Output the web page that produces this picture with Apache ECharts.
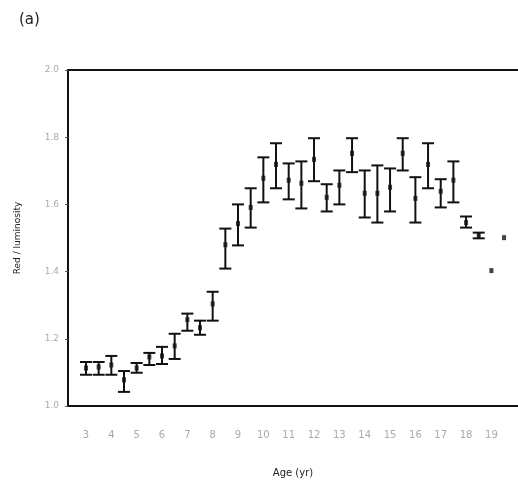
<!DOCTYPE html>
<html>
<head>
<meta charset="utf-8">
<script src="https://cdn.jsdelivr.net/npm/echarts@6/dist/echarts.min.js"></script>
<style>
  html, body { margin: 0; padding: 0; background: #fff; }
  #chart { width: 518px; height: 488px; }
</style>
</head>
<body>
<div id="chart"></div>
<script>
// age groups (yr), half-year steps
const ages = [3, 3.5, 4, 4.5, 5, 5.5, 6, 6.5, 7, 7.5, 8, 8.5, 9, 9.5, 10, 10.5, 11, 11.5,
  12, 12.5, 13, 13.5, 14, 14.5, 15, 15.5, 16, 16.5, 17, 17.5, 18, 18.5, 19, 19.5];
// mean red / luminosity
const means = [1.113, 1.116, 1.122, 1.078, 1.113, 1.146, 1.149, 1.179, 1.257, 1.233, 1.304,
  1.48, 1.543, 1.591, 1.678, 1.719, 1.672, 1.663, 1.734, 1.621, 1.657, 1.752, 1.633, 1.633,
  1.651, 1.752, 1.618, 1.719, 1.639, 1.672, 1.546, 1.507, 1.403, 1.501];
// error bar ends (null = no bar)
const upper = [1.131, 1.131, 1.149, 1.104, 1.128, 1.158, 1.176, 1.215, 1.275, 1.254, 1.34,
  1.528, 1.6, 1.648, 1.74, 1.782, 1.722, 1.728, 1.797, 1.66, 1.701, 1.797, 1.701, 1.716,
  1.707, 1.797, 1.681, 1.782, 1.675, 1.728, 1.564, 1.516, null, null];
const lower = [1.093, 1.093, 1.093, 1.042, 1.099, 1.122, 1.125, 1.14, 1.224, 1.212, 1.254,
  1.409, 1.478, 1.531, 1.606, 1.648, 1.615, 1.588, 1.669, 1.579, 1.6, 1.696, 1.561, 1.546,
  1.579, 1.701, 1.546, 1.648, 1.591, 1.606, 1.531, 1.499, null, null];
const ageTicks = [3, 4, 5, 6, 7, 8, 9, 10, 11, 12, 13, 14, 15, 16, 17, 18, 19];

const barData = [];
ages.forEach((a, i) => {
  if (upper[i] != null) barData.push([a, lower[i], upper[i]]);
});
const meanData = ages.map((a, i) => [a, means[i]]);

const chart = echarts.init(document.getElementById('chart'));
chart.setOption({
  animation: false,
  title: {
    text: '(a)',
    left: 14,
    top: 8,
    textStyle: { fontSize: 15, fontWeight: 'normal', color: '#222', fontFamily: 'DejaVu Sans' }
  },
  grid: { left: 68, right: 0, top: 70, bottom: 82 },
  xAxis: [
    {
      type: 'value',
      min: 2.29,
      max: 20.05,
      name: 'Age (yr)',
      nameLocation: 'middle',
      nameGap: 62,
      nameTextStyle: { fontSize: 10, color: '#222', fontFamily: 'DejaVu Sans' },
      splitLine: { show: false },
      axisLine: { lineStyle: { color: '#111', width: 2 } },
      axisTick: { show: false },
      axisLabel: {
        customValues: ageTicks,
        margin: 24,
        fontSize: 10,
        color: '#aaa',
        fontFamily: 'DejaVu Sans'
      }
    },
    {
      // top frame line only
      type: 'value',
      position: 'top',
      min: 2.29,
      max: 20.05,
      splitLine: { show: false },
      axisLine: { show: true, lineStyle: { color: '#111', width: 2 } },
      axisTick: { show: false },
      axisLabel: { show: false }
    }
  ],
  yAxis: {
    type: 'value',
    min: 1.0,
    max: 2.0,
    interval: 0.2,
    name: 'Red / luminosity',
    nameLocation: 'middle',
    nameGap: 46,
    nameTextStyle: { fontSize: 9, color: '#222', fontFamily: 'DejaVu Sans' },
    splitLine: { show: false },
    axisLine: { show: true, lineStyle: { color: '#111', width: 2 } },
    axisTick: { show: true, length: 3, lineStyle: { color: '#555' } },
    axisLabel: {
      margin: 9,
      fontSize: 9,
      color: '#aaa',
      fontFamily: 'DejaVu Sans',
      formatter: v => v.toFixed(1)
    }
  },
  series: [
    {
      // error bars
      type: 'custom',
      data: barData,
      renderItem: function (params, api) {
        const x = api.value(0);
        const lo = api.coord([x, api.value(1)]);
        const hi = api.coord([x, api.value(2)]);
        const w = 6;
        const style = { stroke: '#111', lineWidth: 2 };
        return {
          type: 'group',
          children: [
            { type: 'line', shape: { x1: lo[0], y1: lo[1], x2: hi[0], y2: hi[1] }, style },
            { type: 'line', shape: { x1: lo[0] - w, y1: lo[1], x2: lo[0] + w, y2: lo[1] }, style },
            { type: 'line', shape: { x1: hi[0] - w, y1: hi[1], x2: hi[0] + w, y2: hi[1] }, style }
          ]
        };
      },
      z: 2
    },
    {
      // means
      type: 'scatter',
      data: meanData,
      symbol: 'rect',
      symbolSize: [4, 5],
      itemStyle: { color: '#111' },
      z: 3
    }
  ]
});
</script>
</body>
</html>
